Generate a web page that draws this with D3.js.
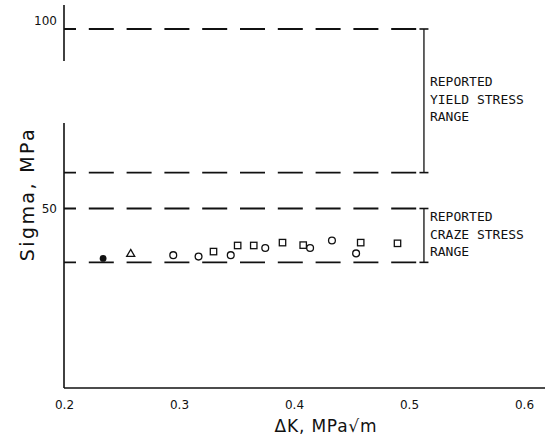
<!DOCTYPE html>
<html>
<head>
<meta charset="utf-8">
<script src="https://cdn.jsdelivr.net/npm/d3@7"></script>
<style>
  html, body { margin: 0; padding: 0; background: #fff; }
  svg { display: block; }
</style>
</head>
<body>
<script>
// Fatigue crack growth: stress vs. stress intensity range
const xTicks = [0.2, 0.3, 0.4, 0.5, 0.6];
const yTicks = [50, 100];

// Measured points, grouped by marker
const filledDK = [0.234];
const filledSigma = [36.1];
const triangleDK = [0.258];
const triangleSigma = [37.3];
const circleDK = [0.295, 0.317, 0.345, 0.375, 0.414, 0.433, 0.454];
const circleSigma = [37.0, 36.6, 37.0, 39.0, 39.0, 41.1, 37.5];
const squareDK = [0.330, 0.351, 0.365, 0.390, 0.408, 0.458, 0.490];
const squareSigma = [38.0, 39.7, 39.7, 40.5, 39.8, 40.5, 40.3];

// Reported stress ranges (MPa)
const yieldRange = [60, 100];
const crazeRange = [35, 50];
const rangeLineEnd = 0.507;   // ΔK where the dashed range lines stop
const bracketDK = 0.513;      // ΔK of the range brackets
const yieldText = ["REPORTED", "YIELD STRESS", "RANGE"];
const crazeText = ["REPORTED", "CRAZE STRESS", "RANGE"];

// Broken vertical axis: drawn pieces (MPa)
const yAxisPieces = [[0, 73.8], [91.1, 106.7]];

const W = 548, H = 441;
const svg = d3.select("body").append("svg").attr("width", W).attr("height", H);
svg.append("rect").attr("width", W).attr("height", H).attr("fill", "#fff");

const x = d3.scaleLinear().domain([0.2, 0.6]).range([64, 524]);
const y = d3.scaleLinear().domain([0, 100]).range([388, 29]);
const ink = "#111";

// x axis: plain baseline with labels, no tick marks
svg.append("line")
  .attr("x1", x(0.2)).attr("x2", 545)
  .attr("y1", y(0)).attr("y2", y(0))
  .attr("stroke", ink).attr("stroke-width", 1.6);

const xAxis = d3.axisBottom(x).tickValues(xTicks).tickSize(0).tickPadding(12)
  .tickFormat(d3.format(".1f"));
const gx = svg.append("g").attr("transform", `translate(0,${y(0)})`).call(xAxis);
gx.select(".domain").remove();
gx.selectAll("text")
  .attr("font-family", "'DejaVu Sans', sans-serif")
  .attr("font-size", 12).attr("fill", ink);

// y axis with a break
svg.selectAll(".ypiece").data(yAxisPieces).join("line")
  .attr("class", "ypiece")
  .attr("x1", x(0.2)).attr("x2", x(0.2))
  .attr("y1", d => y(d[0])).attr("y2", d => y(d[1]))
  .attr("stroke", ink).attr("stroke-width", 1.6);

const yAxis = d3.axisLeft(y).tickValues(yTicks).tickSize(0).tickPadding(7);
const gy = svg.append("g").attr("transform", `translate(${x(0.2)},0)`).call(yAxis);
gy.select(".domain").remove();
gy.selectAll("text")
  .attr("font-family", "'DejaVu Sans', sans-serif")
  .attr("font-size", 12).attr("fill", ink)
  .attr("dy", d => d === 100 ? "-0.35em" : "0.32em");

// Dashed lines at the ends of the reported ranges
const levels = [yieldRange[1], yieldRange[0], crazeRange[1], crazeRange[0]];
svg.selectAll(".level").data(levels).join("line")
  .attr("class", "level")
  .attr("x1", x(0.2)).attr("x2", x(rangeLineEnd))
  .attr("y1", d => y(d)).attr("y2", d => y(d))
  .attr("stroke", ink).attr("stroke-width", 1.8)
  .attr("stroke-dasharray", "25 12.8").attr("stroke-dashoffset", 13);

// Range brackets
const brackets = svg.selectAll(".bracket").data([yieldRange, crazeRange]).join("g")
  .attr("class", "bracket");
brackets.append("line")
  .attr("x1", x(bracketDK)).attr("x2", x(bracketDK))
  .attr("y1", d => y(d[0])).attr("y2", d => y(d[1]))
  .attr("stroke", ink).attr("stroke-width", 1.3);
brackets.selectAll(".cap").data(d => d).join("line")
  .attr("class", "cap")
  .attr("x1", x(bracketDK) - 4.5).attr("x2", x(bracketDK) + 4.5)
  .attr("y1", d => y(d)).attr("y2", d => y(d))
  .attr("stroke", ink).attr("stroke-width", 1.6);

// Range annotations
function block(lines, top) {
  svg.append("g").selectAll("text").data(lines).join("text")
    .attr("x", x(bracketDK) + 6)
    .attr("y", (d, i) => top + i * 17.5)
    .attr("font-family", "'DejaVu Sans Mono', monospace")
    .attr("font-size", 13)
    .attr("fill", ink)
    .text(d => d);
}
block(yieldText, 86);
block(crazeText, 221);

// Markers
const mk = svg.append("g");
mk.selectAll(".filled").data(d3.zip(filledDK, filledSigma)).join("circle")
  .attr("cx", d => x(d[0])).attr("cy", d => y(d[1])).attr("r", 3.4)
  .attr("fill", ink);
mk.selectAll(".tri").data(d3.zip(triangleDK, triangleSigma)).join("path")
  .attr("transform", d => `translate(${x(d[0])},${y(d[1])})`)
  .attr("d", d3.symbol(d3.symbolTriangle, 28))
  .attr("fill", "none").attr("stroke", ink).attr("stroke-width", 1.3);
mk.selectAll(".circ").data(d3.zip(circleDK, circleSigma)).join("circle")
  .attr("cx", d => x(d[0])).attr("cy", d => y(d[1])).attr("r", 3.4)
  .attr("fill", "none").attr("stroke", ink).attr("stroke-width", 1.3);
mk.selectAll(".sq").data(d3.zip(squareDK, squareSigma)).join("rect")
  .attr("x", d => x(d[0]) - 3.2).attr("y", d => y(d[1]) - 3.2)
  .attr("width", 6.4).attr("height", 6.4)
  .attr("fill", "none").attr("stroke", ink).attr("stroke-width", 1.3);

// Axis titles
svg.append("text")
  .attr("transform", "translate(34,194) rotate(-90)")
  .attr("text-anchor", "middle")
  .attr("font-family", "'DejaVu Sans', sans-serif")
  .attr("font-size", 19).attr("letter-spacing", 2.4)
  .attr("fill", ink)
  .text("Sigma, MPa");

svg.append("text")
  .attr("x", 326).attr("y", 432)
  .attr("text-anchor", "middle")
  .attr("font-family", "'DejaVu Sans', sans-serif")
  .attr("font-size", 17).attr("letter-spacing", 0.8)
  .attr("fill", ink)
  .text("ΔK, MPa√m");
</script>
</body>
</html>
